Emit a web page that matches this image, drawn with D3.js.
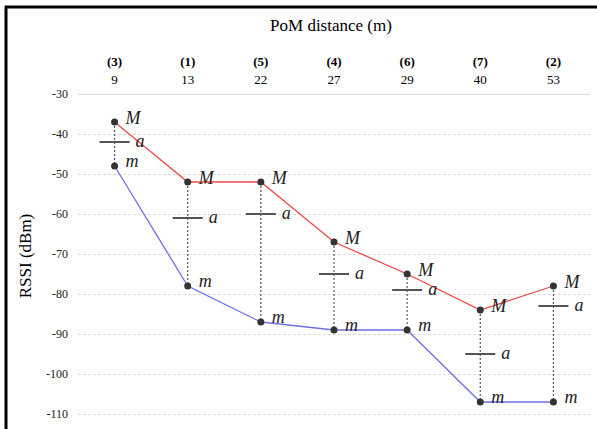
<!DOCTYPE html>
<html><head><meta charset="utf-8">
<script src="https://cdn.jsdelivr.net/npm/d3@7"></script>
<style>
html,body{margin:0;padding:0;background:#fff;}
svg{display:block;}
</style></head>
<body>
<script>
const sites = ["(3)","(1)","(5)","(4)","(6)","(7)","(2)"];
const distances = ["9","13","22","27","29","40","53"];
const maxRSSI = [-37,-52,-52,-67,-75,-84,-78];
const avgRSSI = [-42,-61,-60,-75,-79,-95,-83];
const minRSSI = [-48,-78,-87,-89,-89,-107,-107];
const yTicks = [-30,-40,-50,-60,-70,-80,-90,-100,-110];

(function(){
const FF="'Liberation Serif','Times New Roman',serif";
const W=597,H=429;
const svg=d3.select("body").append("svg").attr("width",W).attr("height",H);
const pl=78,pr=590,pt=94,pb=414;
const x=d3.scalePoint().domain(sites).range([pl,pr]).padding(0.5);
const y=d3.scaleLinear().domain([-110,-30]).range([pb,pt]);

// frame
svg.append("line").attr("x1",6).attr("x2",6).attr("y1",6).attr("y2",H).attr("stroke","#000").attr("stroke-width",3);
svg.append("line").attr("x1",5).attr("x2",W).attr("y1",7).attr("y2",7).attr("stroke","#000").attr("stroke-width",3);

// grid
const yAxis=d3.axisLeft(y).tickValues(yTicks).tickSize(-(pr-pl)).tickFormat(d=>String(d));
const ga=svg.append("g").attr("transform",`translate(${pl},0)`).call(yAxis);
ga.select(".domain").remove();
ga.attr("font-family",null);
ga.selectAll(".tick line").attr("stroke","#dcdcdc").attr("stroke-width",1)
  .attr("stroke-dasharray",d=>d===-30?null:"3,2");
ga.selectAll(".tick text").attr("x",-10).attr("font-size",12).attr("fill","#222")
  .style("font-family",FF);

// top axis labels
const g1=svg.append("g");
g1.selectAll("text.site").data(sites).join("text").attr("class","site")
  .attr("x",d=>x(d)).attr("y",66).attr("text-anchor","middle").attr("font-size",13).attr("font-weight","bold").style("font-family",FF).text(d=>d);
g1.selectAll("text.dist").data(distances).join("text").attr("class","dist")
  .attr("x",(d,i)=>x(sites[i])).attr("y",84).attr("text-anchor","middle").attr("font-size",13).style("font-family",FF).text(d=>d);

svg.append("text").attr("x",(pl+pr)/2-3).attr("y",31).attr("text-anchor","middle").attr("font-size",17).style("font-family",FF).text("PoM distance (m)");
svg.append("text").attr("transform",`translate(31,256) rotate(-90)`).attr("text-anchor","middle").attr("font-size",17).style("font-family",FF).text("RSSI (dBm)");

// dashed verticals
svg.selectAll("line.v").data(sites).join("line").attr("class","v")
  .attr("x1",d=>x(d)).attr("x2",d=>x(d))
  .attr("y1",(d,i)=>y(maxRSSI[i])).attr("y2",(d,i)=>y(minRSSI[i]))
  .attr("stroke","#555").attr("stroke-width",1.2).attr("stroke-dasharray","2,2");

// lines
const line=d3.line().x((d,i)=>x(sites[i])).y(d=>y(d));
svg.append("path").attr("d",line(maxRSSI)).attr("fill","none").attr("stroke","#f04848").attr("stroke-width",1.3);
svg.append("path").attr("d",line(minRSSI)).attr("fill","none").attr("stroke","#6f6fe6").attr("stroke-width",1.3);

// avg markers
svg.selectAll("line.a").data(avgRSSI).join("line").attr("class","a")
  .attr("x1",(d,i)=>x(sites[i])-15).attr("x2",(d,i)=>x(sites[i])+15)
  .attr("y1",d=>y(d)).attr("y2",d=>y(d)).attr("stroke","#555").attr("stroke-width",2);

// dots
[maxRSSI,minRSSI].forEach(arr=>{
  svg.append("g").selectAll("circle").data(arr).join("circle")
    .attr("cx",(d,i)=>x(sites[i])).attr("cy",d=>y(d)).attr("r",3.5).attr("fill","#333");
});

// labels
const lab=(arr,t,dx,dy)=>svg.append("g").selectAll("text").data(arr).join("text")
  .attr("x",(d,i)=>x(sites[i])+dx).attr("y",d=>y(d)+dy)
  .attr("font-size",18).attr("font-style","italic").attr("fill","#222").style("font-family",FF).text(t);
lab(maxRSSI,"M",11,2);
lab(avgRSSI,"a",21,5);
lab(minRSSI,"m",11,1);
})();
</script>
</body></html>
